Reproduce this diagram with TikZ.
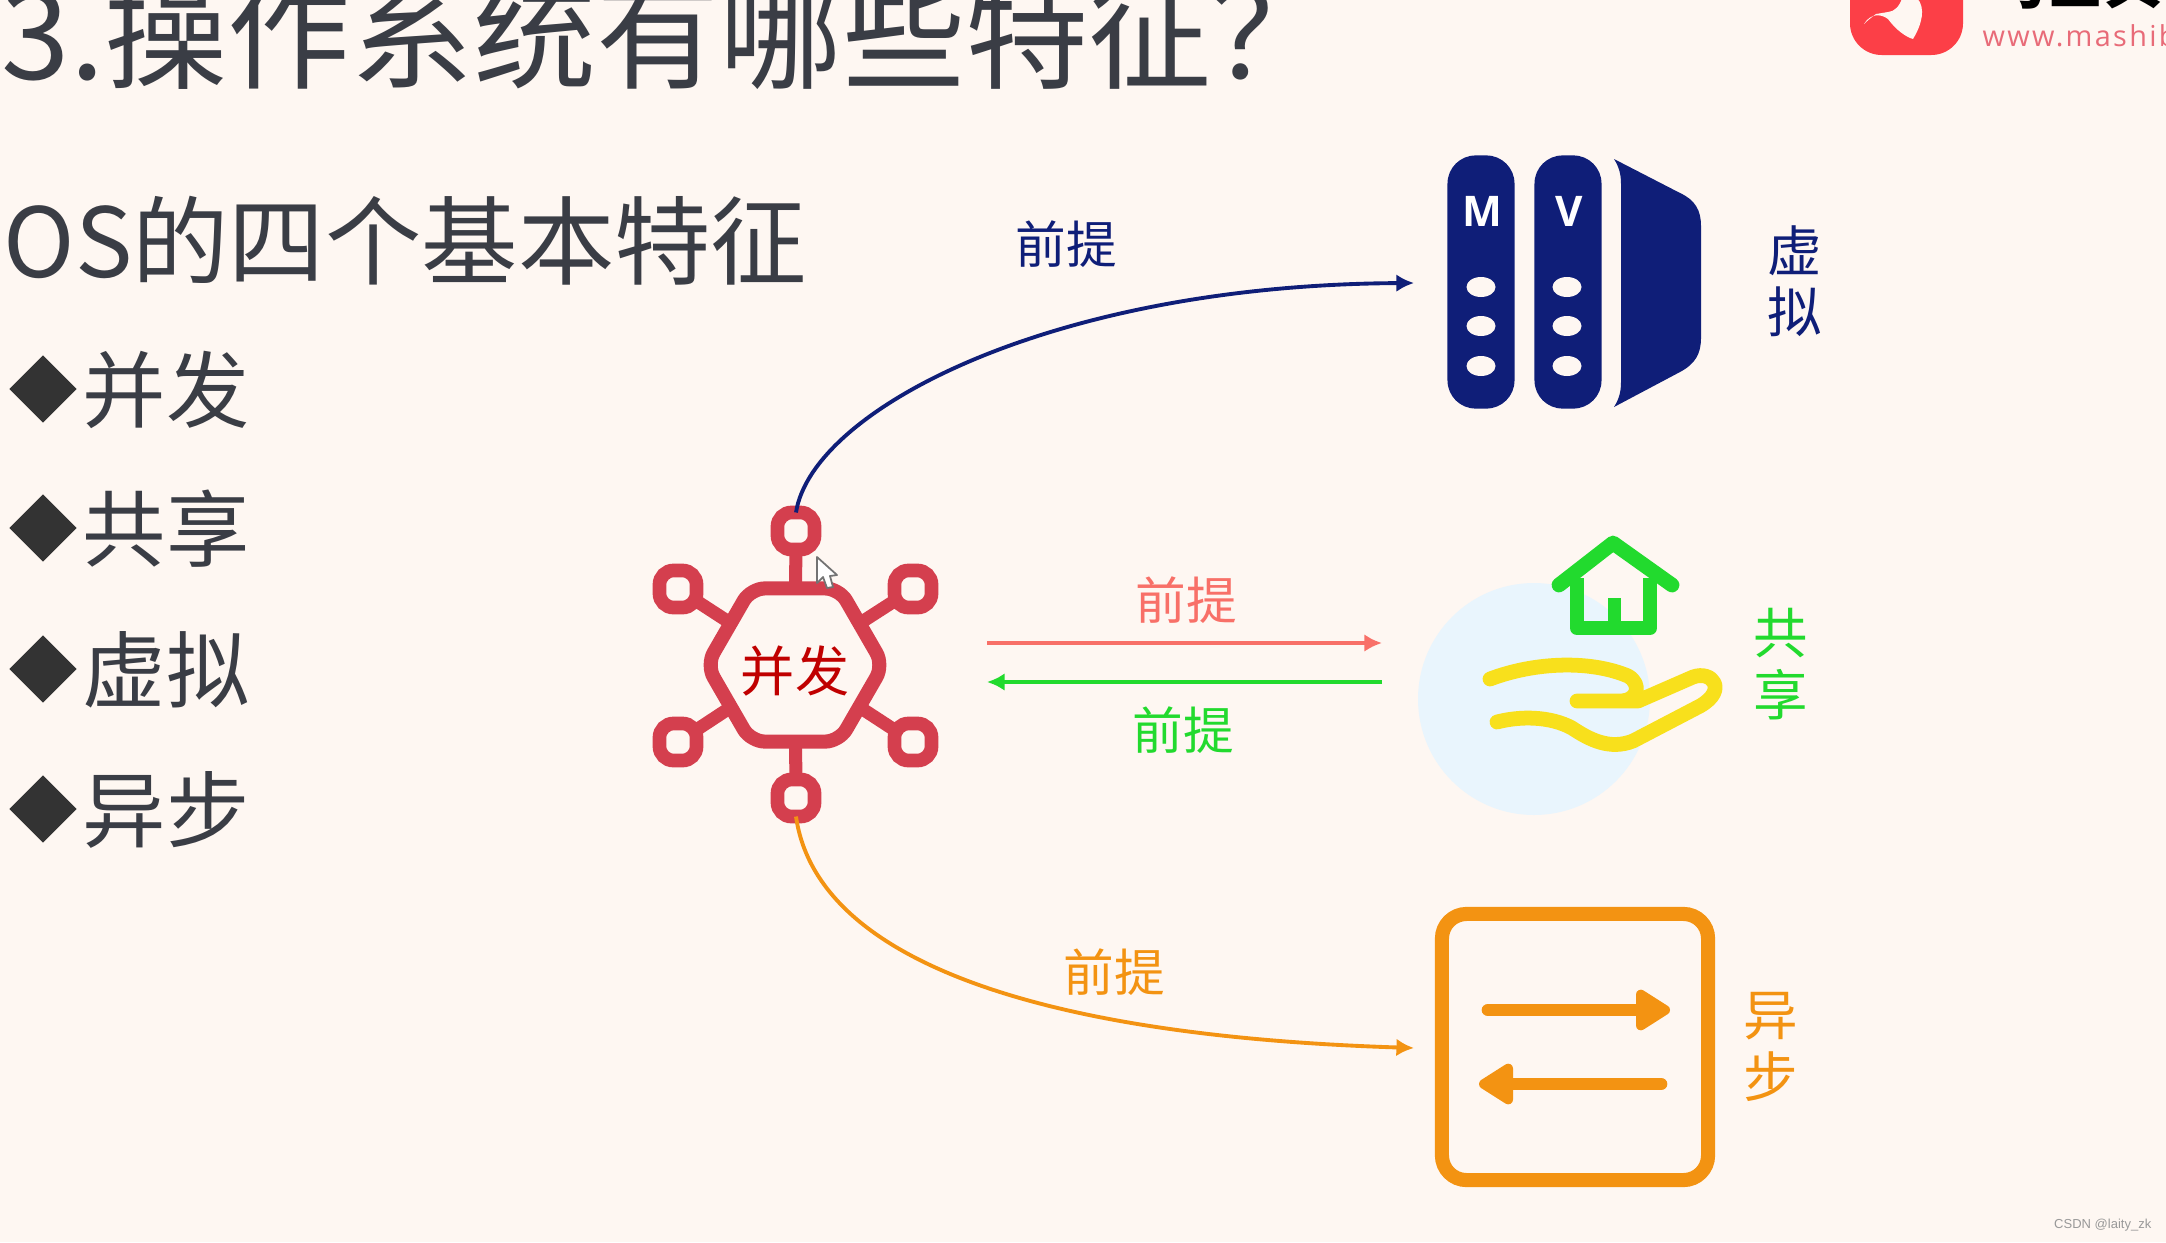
\documentclass[tikz,border=0pt]{standalone}
\usepackage{fontspec}
\usepackage{xcolor}
\setmainfont{Noto Sans CJK SC}
\newfontfamily\logofont[LetterSpace=8]{Open Sans}
\newfontfamily\capfont{Open Sans}
\newfontfamily\markfont{Liberation Sans}
\usetikzlibrary{
	arrows.meta,
	calc,
	shapes.geometric
}
\definecolor{pagebg}{HTML}{FEF7F2}
\definecolor{inkdark}{HTML}{3A3D45}
\definecolor{hubred}{HTML}{D43F4E}
\definecolor{hubtext}{HTML}{C00000}
\definecolor{navy}{HTML}{0F1E78}
\definecolor{salmon}{HTML}{F87068}
\definecolor{leaf}{HTML}{22DA2E}
\definecolor{amber}{HTML}{F39312}
\definecolor{sunny}{HTML}{F8E01C}
\definecolor{skyblue}{HTML}{E9F5FD}
\definecolor{logored}{HTML}{FC3F47}
\definecolor{logotext}{HTML}{E86B78}
\newcommand{\fs}[1]{\fontsize{#1pt}{#1pt}\selectfont}
\tikzset{
	leftitem/.style={anchor=west, inner sep=0pt, text=inkdark, font=\fs{23.7}},
	bullet/.style={diamond, fill=black!80, inner sep=0pt, minimum size=0.68cm},
	hubnode/.style={rectangle, draw=hubred, line width=3.9pt, rounded corners=4pt, minimum size=0.37cm, inner sep=0pt, outer sep=0pt},
	spoke/.style={draw=hubred, line width=3.7pt},
	tag/.style={inner sep=0pt, font=\fs{14.4}},
	sidetag/.style={inner sep=0pt, align=center, font=\fs{15.5}},
	curve/.style={line width=1.1pt, -{Latex[length=5pt,width=5pt]}},
	fatarrow/.style={draw=amber, line width=3.6pt, line cap=round, -{Triangle[round,length=11pt,width=13pt]}},
	dotnode/.style={ellipse, fill=pagebg, minimum width=0.29cm, minimum height=0.2cm, inner sep=0pt},
	barnode/.style={rectangle, fill=navy, rounded corners=8pt, minimum width=0.67cm, minimum height=2.53cm, inner sep=0pt},
	capnode/.style={text=white, inner sep=0pt, font=\capfont\fs{12}\bfseries}
}
\begin{document}
\begin{tikzpicture}[x=0.01cm, y=-0.01cm]
	\fill[pagebg] (0,0) rectangle (2166,1242);
	\useasboundingbox (0,0) rectangle (2166,1242);
	% heading and list
	\node[leftitem, font=\fs{35}] (title) at (1,33) {3.操作系统有哪些特征？};
	\node[leftitem, font=\fs{27.4}] (subtitle) at (3,241) {OS的四个基本特征};
	\node[bullet] (b1) at (43,389) {};
	\node[bullet] (b2) at (43,528) {};
	\node[bullet] (b3) at (43,669) {};
	\node[bullet] (b4) at (43,809) {};
	\node[leftitem] (i1) at (82,390) {并发};
	\node[leftitem] (i2) at (82,529) {共享};
	\node[leftitem] (i3) at (82,670) {虚拟};
	\node[leftitem] (i4) at (82,810) {异步};
	% logo
	\fill[logored, rounded corners=9pt] (1850,-60) rectangle (1963,55);
	\fill[pagebg] (1864,24) .. controls (1870,14) and (1880,13) .. (1888,19) .. controls (1896,30) and (1906,37) .. (1913,39) .. controls (1922,24) and (1926,8) .. (1917,-2) -- (1902,-2) .. controls (1900,6) and (1894,12) .. (1888,12) -- (1876,14) .. controls (1872,17) and (1868,20) .. (1864,24) -- cycle;
	\node[anchor=base west, inner sep=0pt, font=\fs{16.5}\bfseries] (brand) at (1988,3) {马士兵};
	\node[anchor=west, inner sep=0pt, text=logotext, font=\logofont\fs{8.2}] (site) at (1982,36) {www.mashib};
	% hub
	\node[regular polygon, regular polygon sides=6, draw=hubred, line width=4pt, rounded corners=4pt, minimum size=1.69cm, inner sep=0pt, outer sep=0pt, text=hubtext, font=\fs{15.4}] (bingfa) at (795,665) {\raisebox{-7.4pt}[0pt][0pt]{并发}};
	\node[hubnode] (h1) at (796,531) {};
	\node[hubnode] (h2) at (678,589) {};
	\node[hubnode] (h3) at (913,589) {};
	\node[hubnode] (h4) at (678,742) {};
	\node[hubnode] (h5) at (913,742) {};
	\node[hubnode] (h6) at (796,798) {};
	\foreach \n in {1,...,6}
		\draw[spoke] (bingfa) -- (h\n);
	% cursor
	\draw[fill=white, draw=black!55, line width=0.5pt, line join=round] (817,557) -- (837,575) -- (830,576) -- (833,587) -- (827,588) -- (823,577) -- (817,583) -- cycle;
	% virtual
	\node[barnode] (barm) at (1481,282) {};
	\node[barnode] (barv) at (1568,282) {};
	\node[capnode] (mm) at (1482,211) {M};
	\node[capnode] (vv) at (1569,211) {V};
	\foreach \x/\nm in {1481/m, 1567/v} {
		\node[dotnode] (\nm1) at (\x,287) {};
		\node[dotnode] (\nm2) at (\x,326) {};
		\node[dotnode] (\nm3) at (\x,366) {};
	}
	\fill[navy] (1614,159) .. controls (1619,167) and (1621,174) .. (1621,184) -- (1621,382) .. controls (1621,392) and (1619,399) .. (1614,407) -- (1680,372) .. controls (1695,364) and (1701,354) .. (1701,338) -- (1701,226) .. controls (1701,210) and (1695,200) .. (1680,193) -- cycle;
	\node[sidetag, text=navy] (tagv) at (1795,281) {虚\\[2pt]拟};
	\coordinate (vtip) at (1414,283);
	\draw[curve, navy] (h1.north) .. controls (812,410) and (1050,285) .. (vtip);
	\node[tag, text=navy] (pv) at (1066,244) {前提};
	% shared
	\fill[skyblue] (1534,699) circle (116);
	\draw[leaf, line width=4.2pt, line join=round, line cap=round] (1559,585) -- (1613,543) -- (1672,585);
	\draw[leaf, line width=4pt, line join=round] (1577,578) -- (1577,628) -- (1650,628) -- (1650,578);
	\draw[leaf, line width=3.7pt] (1614,598) -- (1614,628);
	\draw[sunny, line width=4.2pt, line cap=round, line join=round] (1490,679) .. controls (1535,662) and (1590,660) .. (1628,676) .. controls (1642,684) and (1638,701) .. (1620,701) -- (1577,701) -- (1638,701) -- (1693,677) .. controls (1712,670) and (1728,690) .. (1700,706) -- (1633,741) .. controls (1610,750) and (1590,740) .. (1572,728) .. controls (1550,716) and (1520,716) .. (1497,722);
	\node[sidetag, text=leaf] (tags) at (1781,664) {共\\[2pt]享};
	\coordinate (sa) at (987,643);
	\coordinate (sb) at (1382,643);
	\coordinate (sc) at (1382,682);
	\coordinate (sd) at (987,682);
	\draw[curve, salmon] (sa) -- (sb);
	\draw[curve, leaf] (sc) -- (sd);
	\node[tag, text=salmon] (ps) at (1186,600) {前提};
	\node[tag, text=leaf] (pg) at (1183,730) {前提};
	% async
	\node[rectangle, draw=amber, line width=4pt, rounded corners=7pt, minimum width=2.66cm, minimum height=2.66cm, inner sep=0pt] (box) at (1575,1047) {};
	\coordinate (a1) at (1488,1010);
	\coordinate (a2) at (1670,1010);
	\coordinate (a3) at (1661,1084);
	\coordinate (a4) at (1479,1084);
	\draw[fatarrow] (a1) -- (a2);
	\draw[fatarrow] (a3) -- (a4);
	\node[sidetag, text=amber] (taga) at (1771,1047) {异\\[2pt]步};
	\coordinate (atip) at (1414,1048);
	\draw[curve, amber] (h6.south) .. controls (815,950) and (1010,1035) .. (atip);
	\node[tag, text=amber] (pa) at (1114,972) {前提};
	% watermark
	\node[anchor=east, inner sep=0pt, text=black!40, font=\markfont\fs{3.7}] (mark) at (2152,1225) {CSDN @laity\_zk};
\end{tikzpicture}
\end{document}
